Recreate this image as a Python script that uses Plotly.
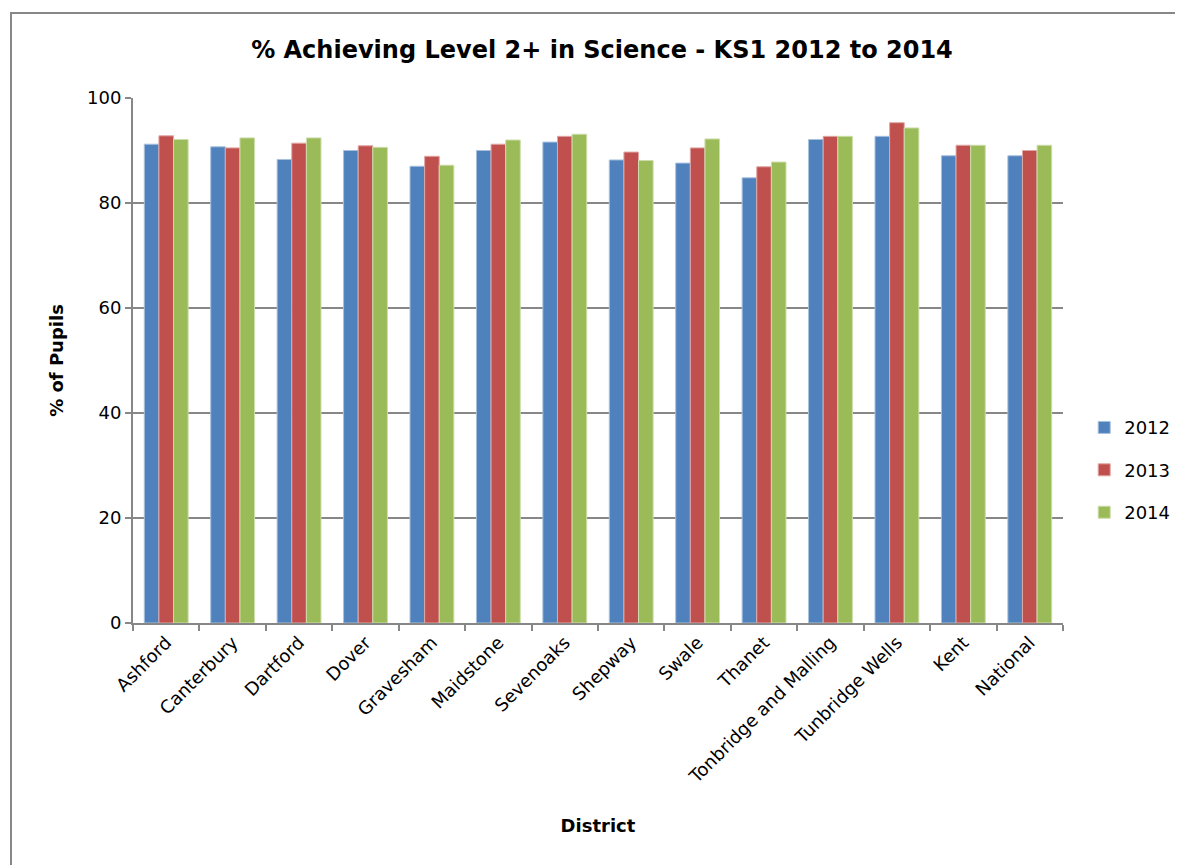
import plotly.graph_objects as go

districts = ["Ashford", "Canterbury", "Dartford", "Dover", "Gravesham", "Maidstone",
             "Sevenoaks", "Shepway", "Swale", "Thanet", "Tonbridge and Malling",
             "Tunbridge Wells", "Kent", "National"]
y2012 = [91.2, 90.7, 88.3, 90.0, 87.0, 90.0, 91.6, 88.2, 87.6, 84.8, 92.1, 92.7, 89.0, 89.0]
y2013 = [92.8, 90.5, 91.4, 90.9, 88.9, 91.2, 92.7, 89.7, 90.5, 86.9, 92.7, 95.3, 91.0, 90.0]
y2014 = [92.1, 92.4, 92.4, 90.6, 87.2, 92.0, 93.1, 88.1, 92.2, 87.8, 92.7, 94.3, 91.0, 91.0]

colors = {"2012": "#4F81BD", "2013": "#C0504D", "2014": "#9BBB59"}
edges = {"2012": "#A7C0DE", "2013": "#E0A7A6", "2014": "#CDDDAC"}

fig = go.Figure()
for name, vals in [("2012", y2012), ("2013", y2013), ("2014", y2014)]:
    fig.add_trace(go.Bar(x=districts, y=vals, name=name, legendgroup=name,
                         marker=dict(color=colors[name],
                                     line=dict(color=edges[name], width=1))))

font = "DejaVu Sans, Verdana, sans-serif"
# page body has an 8px margin, so the figure is 8px smaller and shifted
fig.update_layout(
    width=1175, height=857,
    margin=dict(l=125, r=120, t=90, b=242, autoexpand=False),
    paper_bgcolor="white", plot_bgcolor="white",
    font=dict(family=font, size=18, color="black"),
    title=dict(text="<b>% Achieving Level 2+ in Science - KS1 2012 to 2014</b>",
               x=0.5055, xanchor="center", y=0.951, yanchor="middle",
               font=dict(size=24)),
    barmode="group", bargap=0.34, bargroupgap=0,
    legend=dict(x=1.0228, y=0.291, xanchor="left", yanchor="middle",
                font=dict(size=18), tracegroupgap=16, itemwidth=30,
                bgcolor="rgba(0,0,0,0)"),
    showlegend=True,
)
fig.update_xaxes(
    title=dict(text="<b>District</b>", font=dict(size=18), standoff=33),
    tickangle=-45, showline=True, linecolor="#878787", linewidth=2,
    ticks="outside", tickson="boundaries", ticklen=6, tickcolor="#878787",
    tickwidth=2, showgrid=False,
)
fig.update_yaxes(
    title=dict(text="<b>% of Pupils</b>", font=dict(size=18), standoff=19),
    range=[0, 100], dtick=20, showline=True, linecolor="#878787", linewidth=2,
    ticks="outside", ticklen=6, tickcolor="#878787", tickwidth=2,
    showgrid=True, gridcolor="#878787", gridwidth=2, zeroline=False,
)
# chart frame, cut off at the right and bottom edges of the picture
fig.add_shape(type="rect", xref="paper", yref="paper",
              x0=-0.1312, x1=1.16, y0=-0.5, y1=1.162,
              line=dict(color="#878787", width=2), fillcolor="rgba(0,0,0,0)",
              layer="below")
fig.write_html("out.html")
